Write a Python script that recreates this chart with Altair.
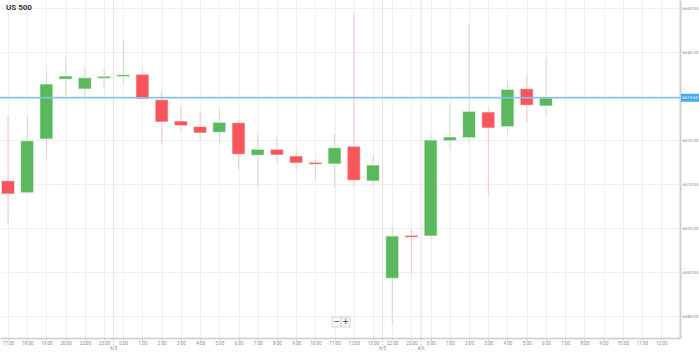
import json
import altair as alt
import pandas as pd

# ---- data ----
hour_labels = ['17:00', '18:00', '19:00', '20:00', '22:00', '23:00', '0:00', '1:00', '2:00', '3:00',
               '4:00', '5:00', '6:00', '7:00', '8:00', '9:00', '10:00', '11:00', '12:00', '13:00',
               '22:00', '23:00', '0:00', '1:00', '2:00', '3:00', '4:00', '5:00', '6:00', '7:00',
               '8:00', '9:00', '10:00', '11:00', '12:00']
opens = [6610.75, 6608.00, 6620.23, 6633.80, 6631.59, 6634.02, 6634.39, 6634.93, 6629.16, 6624.32,
         6623.07, 6621.75, 6623.93, 6616.52, 6617.89, 6616.36, 6614.93, 6614.55, 6618.57, 6610.68,
         6588.57, 6598.34, 6598.18, 6619.84, 6620.52, 6626.36, 6623.02, 6631.66, 6627.73]
closes = [6607.73, 6619.84, 6632.73, 6634.55, 6634.16, 6634.48, 6634.84, 6629.32, 6624.09, 6623.25,
          6621.59, 6624.02, 6616.75, 6617.89, 6616.59, 6614.77, 6614.48, 6618.25, 6610.84, 6614.32,
          6598.18, 6597.89, 6620.00, 6620.68, 6626.52, 6622.73, 6631.52, 6627.89, 6629.55]
highs = [6625.68, 6625.45, 6635.68, 6638.86, 6636.52, 6636.07, 6642.50, 6635.68, 6631.14, 6627.73,
         6626.14, 6626.82, 6624.55, 6621.66, 6620.52, 6617.57, 6615.61, 6621.52, 6649.09, 6616.82,
         6600.30, 6599.70, 6621.14, 6628.34, 6646.36, 6627.20, 6632.89, 6634.77, 6638.57]
lows = [6601.14, 6607.84, 6615.75, 6630.00, 6629.84, 6631.59, 6632.89, 6629.09, 6619.39, 6621.89,
        6620.00, 6619.48, 6613.41, 6609.39, 6614.84, 6613.34, 6611.30, 6609.02, 6609.39, 6609.39,
        6577.95, 6589.70, 6597.43, 6617.73, 6619.25, 6607.50, 6621.89, 6624.02, 6625.45]
y_ticks = [6580, 6590, 6600, 6610, 6620, 6630, 6640, 6650]
date_pos = [5.5, 19.5, 21.5]
date_labels = ['4/3', '4/5', '4/6']
current_price = 6629.60
title_text = 'US 500'

GREEN = '#5cb85c'
RED = '#f6565c'

df = pd.DataFrame({'i': list(range(len(opens))), 'open': opens, 'close': closes,
                   'high': highs, 'low': lows})
df['dir'] = ['up' if c >= o else 'down' for o, c in zip(opens, closes)]

xs = alt.Scale(domain=[-0.154, 34.72], nice=False, zero=False)
ys = alt.Scale(domain=[6575, 6651.82], nice=False, zero=False)

xaxis = alt.Axis(values=list(range(len(hour_labels))),
                 labelExpr=json.dumps(hour_labels) + "[datum.value]",
                 title=None, labelFontSize=4.6, labelColor='#8a8a8a', labelFont='Roboto',
                 tickSize=2, tickColor='#cccccc', domainColor='#cccccc', domainWidth=1.5,
                 grid=True, gridColor='#f0f0f0', labelPadding=0.5, labelOverlap=False,
                 labelFlush=False)
# the 6630 label is hidden under the current-price tag, as in the reference
yaxis = alt.Axis(orient='right', values=y_ticks, format='.2f', title=None,
                 labelExpr="abs(datum.value - %s) < 3 ? '' : datum.label" % current_price,
                 labelFontSize=4.4, labelColor='#8a8a8a', labelFont='Roboto',
                 ticks=False, labelPadding=2, domainColor='#d0d0d0', domainWidth=2,
                 grid=True, gridColor='#f0f0f0')

color = alt.Color('dir:N', scale=alt.Scale(domain=['up', 'down'], range=[GREEN, RED]), legend=None)
X = alt.X('i:Q', scale=xs, axis=xaxis)

base = alt.Chart(df)

wicks = base.mark_rule(strokeWidth=1, opacity=0.3, clip=True).encode(
    x=X, y=alt.Y('low:Q', scale=ys, axis=yaxis), y2='high:Q', color=color)

bodies = base.mark_bar(width=13, clip=True, stroke='white', strokeWidth=0.6).encode(
    x=X, y=alt.Y('open:Q', scale=ys, axis=yaxis), y2='close:Q', color=color)

dates_df = pd.DataFrame({'i': date_pos, 'label': date_labels})
date_grid = alt.Chart(dates_df).mark_rule(color='#e4e4e4', strokeWidth=1).encode(
    x=X, y=alt.value(0), y2=alt.value(338))
date_ticks = alt.Chart(dates_df).mark_rule(color='#aaaaaa', strokeWidth=0.8, strokeDash=[1.5, 1.5]).encode(
    x=X, y=alt.value(338), y2=alt.value(345))
date_text = alt.Chart(dates_df).mark_text(fontSize=4.6, color='#8a8a8a', font='Roboto', baseline='middle').encode(
    x=X, y=alt.value(348.5), text='label:N')

price_df = pd.DataFrame({'p': [current_price]})
price_line = alt.Chart(price_df).mark_rule(color='#7cc6f5', strokeWidth=1.3).encode(
    y=alt.Y('p:Q', scale=ys, axis=yaxis), x=alt.value(0), x2=alt.value(680))
price_box = alt.Chart(price_df).mark_rule(color='#45a9ef', strokeWidth=8).encode(
    y=alt.Y('p:Q', scale=ys, axis=yaxis), x=alt.value(681), x2=alt.value(699))
price_text = alt.Chart(price_df).mark_text(color='white', fontSize=4.4, font='Roboto', align='center',
                                            baseline='middle').encode(
    y=alt.Y('p:Q', scale=ys, axis=yaxis), x=alt.value(690), text=alt.Text('p:Q', format='.2f'))

title_df = pd.DataFrame({'t': [title_text]})
title = alt.Chart(title_df).mark_text(fontSize=8, fontWeight='bold', color='#333333', font='Roboto',
                                      align='left', baseline='middle').encode(
    x=alt.value(6), y=alt.value(8), text='t:N')

zoom_df = pd.DataFrame({'s': ['−', '+']})
zoom_minus_box = alt.Chart(zoom_df.iloc[[0]]).mark_rect(fill='#f7f7f7', stroke='#cfcfcf', strokeWidth=0.8).encode(
    x=alt.value(332), x2=alt.value(341), y=alt.value(317), y2=alt.value(327))
zoom_plus_box = alt.Chart(zoom_df.iloc[[1]]).mark_rect(fill='#f7f7f7', stroke='#cfcfcf', strokeWidth=0.8).encode(
    x=alt.value(341), x2=alt.value(350), y=alt.value(317), y2=alt.value(327))
zoom_minus = alt.Chart(zoom_df.iloc[[0]]).mark_text(fontSize=8, color='#444', align='center', baseline='middle',
                                                    font='DejaVu Sans').encode(
    x=alt.value(336.5), y=alt.value(322), text='s:N')
zoom_plus = alt.Chart(zoom_df.iloc[[1]]).mark_text(fontSize=8, color='#444', align='center', baseline='middle',
                                                   font='DejaVu Sans').encode(
    x=alt.value(345.5), y=alt.value(322), text='s:N')

chart = alt.layer(
    date_grid, wicks, bodies, price_line, date_ticks, date_text, price_box, price_text,
    title, zoom_minus_box, zoom_plus_box, zoom_minus, zoom_plus
).properties(
    width=680, height=338,
    autosize=alt.AutoSizeParams(type='none'),
    padding={'left': 0, 'top': 0, 'right': 19, 'bottom': 14},
    background='white'
).configure_view(stroke=None)

chart.save('out.html', embed_options={'renderer': 'svg', 'actions': False})
